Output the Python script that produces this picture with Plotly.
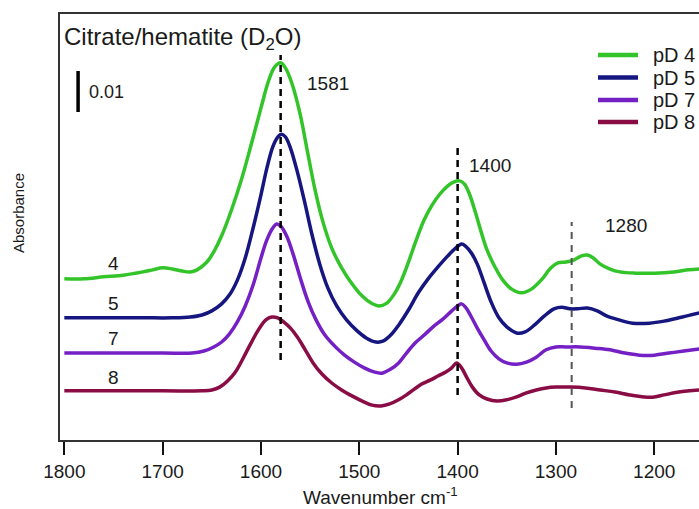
import plotly.graph_objects as go

# ---------------- data ----------------
wn_pd4 = [1800, 1780, 1760, 1740, 1720, 1710, 1700, 1690, 1680, 1672, 1665, 1655, 1648, 1640,
          1630, 1620, 1610, 1600, 1592, 1586, 1580, 1575, 1568, 1560, 1553, 1545, 1537, 1528,
          1518, 1508, 1497, 1488, 1480, 1472, 1465, 1458, 1450, 1442, 1434, 1426, 1418, 1410,
          1404, 1398, 1393, 1388, 1382, 1376, 1370, 1362, 1354, 1345, 1335, 1325, 1315, 1305,
          1298, 1290, 1282, 1274, 1268, 1262, 1255, 1245, 1235, 1220, 1200, 1180, 1165, 1154]
abs_pd4 = [0.0393, 0.0393, 0.0398, 0.0402, 0.0410, 0.0415, 0.0420, 0.0417, 0.0412, 0.0410,
           0.0415, 0.0434, 0.0459, 0.0498, 0.0561, 0.0634, 0.0720, 0.0810, 0.0878, 0.0910,
           0.0920, 0.0907, 0.0866, 0.0793, 0.0707, 0.0610, 0.0532, 0.0468, 0.0420, 0.0383,
           0.0351, 0.0334, 0.0327, 0.0334, 0.0354, 0.0385, 0.0434, 0.0488, 0.0537, 0.0573,
           0.0600, 0.0620, 0.0629, 0.0632, 0.0624, 0.0600, 0.0556, 0.0507, 0.0463, 0.0422,
           0.0390, 0.0368, 0.0359, 0.0368, 0.0390, 0.0420, 0.0432, 0.0434, 0.0439, 0.0449,
           0.0451, 0.0444, 0.0429, 0.0417, 0.0410, 0.0407, 0.0407, 0.0410, 0.0415, 0.0417]

wn_pd5 = [1800, 1760, 1720, 1690, 1672, 1660, 1650, 1640, 1632, 1624, 1616, 1608, 1600, 1594,
          1588, 1583, 1579, 1575, 1570, 1563, 1556, 1548, 1540, 1532, 1523, 1513, 1503, 1493,
          1483, 1476, 1468, 1460, 1450, 1440, 1430, 1420, 1410, 1402, 1396, 1392, 1386, 1380,
          1373, 1366, 1358, 1350, 1340, 1332, 1322, 1312, 1302, 1294, 1286, 1278, 1268, 1258,
          1248, 1236, 1222, 1205, 1190, 1175, 1154]
abs_pd5 = [0.0298, 0.0298, 0.0298, 0.0298, 0.0300, 0.0305, 0.0315, 0.0332, 0.0354, 0.0390,
           0.0444, 0.0517, 0.0598, 0.0663, 0.0715, 0.0739, 0.0746, 0.0739, 0.0712, 0.0654,
           0.0585, 0.0500, 0.0427, 0.0371, 0.0327, 0.0293, 0.0268, 0.0249, 0.0239, 0.0241,
           0.0256, 0.0280, 0.0317, 0.0359, 0.0393, 0.0422, 0.0449, 0.0468, 0.0478, 0.0473,
           0.0456, 0.0429, 0.0383, 0.0337, 0.0298, 0.0276, 0.0261, 0.0263, 0.0280, 0.0302,
           0.0320, 0.0324, 0.0320, 0.0320, 0.0322, 0.0315, 0.0302, 0.0293, 0.0285, 0.0285,
           0.0290, 0.0298, 0.0310]

wn_pd7 = [1800, 1700, 1670, 1658, 1648, 1640, 1632, 1624, 1616, 1608, 1600, 1594, 1588, 1584,
          1580, 1574, 1567, 1560, 1552, 1544, 1535, 1525, 1515, 1505, 1495, 1485, 1477, 1468,
          1460, 1452, 1443, 1434, 1425, 1415, 1406, 1400, 1396, 1392, 1386, 1380, 1373, 1366,
          1358, 1350, 1340, 1330, 1320, 1310, 1300, 1290, 1275, 1260, 1245, 1230, 1215, 1200,
          1185, 1170, 1154]
abs_pd7 = [0.0212, 0.0212, 0.0212, 0.0217, 0.0227, 0.0239, 0.0259, 0.0288, 0.0327, 0.0378,
           0.0444, 0.0488, 0.0517, 0.0527, 0.0522, 0.0498, 0.0451, 0.0395, 0.0337, 0.0293,
           0.0256, 0.0229, 0.0207, 0.0190, 0.0176, 0.0166, 0.0163, 0.0173, 0.0188, 0.0212,
           0.0237, 0.0256, 0.0276, 0.0295, 0.0315, 0.0327, 0.0332, 0.0324, 0.0300, 0.0273,
           0.0244, 0.0217, 0.0198, 0.0188, 0.0185, 0.0190, 0.0202, 0.0220, 0.0227, 0.0227,
           0.0227, 0.0224, 0.0220, 0.0212, 0.0207, 0.0207, 0.0212, 0.0217, 0.0222]

wn_pd8 = [1800, 1700, 1660, 1650, 1642, 1634, 1626, 1618, 1610, 1602, 1595, 1589, 1583, 1577,
          1570, 1563, 1555, 1547, 1538, 1528, 1518, 1507, 1497, 1487, 1478, 1469, 1460, 1452,
          1444, 1436, 1428, 1420, 1412, 1406, 1401, 1396, 1391, 1385, 1378, 1370, 1360, 1350,
          1340, 1330, 1320, 1310, 1300, 1285, 1270, 1255, 1240, 1225, 1210, 1200, 1190, 1175,
          1154]
abs_pd8 = [0.0120, 0.0120, 0.0120, 0.0122, 0.0129, 0.0144, 0.0166, 0.0200, 0.0237, 0.0271,
           0.0293, 0.0300, 0.0298, 0.0288, 0.0273, 0.0251, 0.0220, 0.0188, 0.0161, 0.0139,
           0.0122, 0.0107, 0.0095, 0.0085, 0.0083, 0.0088, 0.0098, 0.0110, 0.0124, 0.0137,
           0.0146, 0.0156, 0.0166, 0.0176, 0.0188, 0.0176, 0.0154, 0.0129, 0.0110, 0.0100,
           0.0095, 0.0098, 0.0105, 0.0115, 0.0122, 0.0127, 0.0129, 0.0129, 0.0127, 0.0122,
           0.0117, 0.0110, 0.0105, 0.0105, 0.0110, 0.0117, 0.0122]

series_names = ["pD 4", "pD 5", "pD 7", "pD 8"]
curve_labels = ["4", "5", "7", "8"]
peak_labels = ["1581", "1400", "1280"]
x_ticks = [1800, 1700, 1600, 1500, 1400, 1300, 1200]

# ---------------- styling ----------------
colors = ["#33c42a", "#161680", "#7420c4", "#8a0c44"]
FONT = "Arial, Liberation Sans, sans-serif"
TXT = "#1a1a1a"

# plot-area pixel frame
L, R, T, B = 60, 699, 14, 440


def pp(px, py):
    return (px - L) / (R - L), (B - py) / (B - T)


fig = go.Figure()
for wn, ab, name, col in zip([wn_pd4, wn_pd5, wn_pd7, wn_pd8],
                             [abs_pd4, abs_pd5, abs_pd7, abs_pd8],
                             series_names, colors):
    fig.add_trace(go.Scatter(x=wn, y=ab, mode="lines", name=name,
                             line=dict(color=col, width=3.5, shape="spline", smoothing=1.0),
                             showlegend=False))

shapes = []
annotations = []

# dashed peak markers
shapes.append(dict(type="line", xref="x", yref="y", x0=1580, x1=1580, y0=0.0195, y1=0.0939,
                   line=dict(color="black", width=2.5, dash="7px,5px")))
shapes.append(dict(type="line", xref="x", yref="y", x0=1400, x1=1400, y0=0.0110, y1=0.0720,
                   line=dict(color="black", width=2.5, dash="7px,5px")))
shapes.append(dict(type="line", xref="x", yref="y", x0=1284, x1=1284, y0=0.0078, y1=0.0532,
                   line=dict(color="#555555", width=2, dash="7px,6px")))

# scale bar (0.01 absorbance)
shapes.append(dict(type="line", xref="x", yref="y", x0=1786, x1=1786, y0=0.0800, y1=0.0900,
                   line=dict(color="black", width=3.5)))
x, y = pp(87, 92)
annotations.append(dict(text="0.01", x=x, y=y, xref="paper", yref="paper", xanchor="left",
                        yanchor="middle", showarrow=False, font=dict(size=18, color=TXT, family=FONT)))

# title
x, y = pp(62, 38)
annotations.append(dict(text="Citrate/hematite (D<sub>2</sub>O)", x=x, y=y, xref="paper", yref="paper",
                        xanchor="left", yanchor="middle", showarrow=False,
                        font=dict(size=24, color=TXT, family=FONT)))

# peak labels
for lab, (px, py) in zip(peak_labels, [(305, 83), (467, 165), (603, 226)]):
    x, y = pp(px, py)
    annotations.append(dict(text=lab, x=x, y=y, xref="paper", yref="paper", xanchor="left",
                            yanchor="middle", showarrow=False, font=dict(size=19, color=TXT, family=FONT)))

# curve labels
for lab, py in zip(curve_labels, [263, 303, 338, 377]):
    x, y = pp(113, py)
    annotations.append(dict(text=lab, x=x, y=y, xref="paper", yref="paper", xanchor="center",
                            yanchor="middle", showarrow=False, font=dict(size=19, color=TXT, family=FONT)))

# legend (drawn)
for name, col, py in zip(series_names, colors, [55, 77.5, 100, 122]):
    x0, y0 = pp(598, py)
    x1, _ = pp(638, py)
    shapes.append(dict(type="line", xref="paper", yref="paper", x0=x0, x1=x1, y0=y0, y1=y0,
                       line=dict(color=col, width=4.5)))
    xt, yt = pp(651, py)
    annotations.append(dict(text=name, x=xt, y=yt, xref="paper", yref="paper", xanchor="left",
                            yanchor="middle", showarrow=False, font=dict(size=20, color=TXT, family=FONT)))

# axis titles
x, y = pp(18, 213)
annotations.append(dict(text="Absorbance", x=x, y=y, xref="paper", yref="paper", textangle=-90,
                        xanchor="center", yanchor="middle", showarrow=False,
                        font=dict(size=15, color=TXT, family=FONT)))
x, y = pp(380, 496)
annotations.append(dict(text="Wavenumber cm<sup>-1</sup>", x=x, y=y, xref="paper", yref="paper",
                        xanchor="center", yanchor="middle", showarrow=False,
                        font=dict(size=19, color=TXT, family=FONT)))

fig.update_layout(
    width=699, height=509,
    margin=dict(l=L, r=699 - R, t=T, b=509 - B),
    paper_bgcolor="white", plot_bgcolor="white",
    shapes=shapes, annotations=annotations,
    xaxis=dict(range=[1804.4, 1154.5], tickmode="array", tickvals=x_ticks,
               ticktext=[str(v) for v in x_ticks],
               ticks="outside", ticklen=13, tickwidth=2, tickcolor="#111",
               showline=True, linecolor="#333", linewidth=1.8, mirror=True,
               showgrid=False, zeroline=False,
               tickfont=dict(size=19, color=TXT, family=FONT)),
    yaxis=dict(range=[0, 0.103902], showticklabels=False, ticks="",
               showline=True, linecolor="#333", linewidth=1.8, mirror=False,
               showgrid=False, zeroline=False),
)

fig.write_html("out.html")
